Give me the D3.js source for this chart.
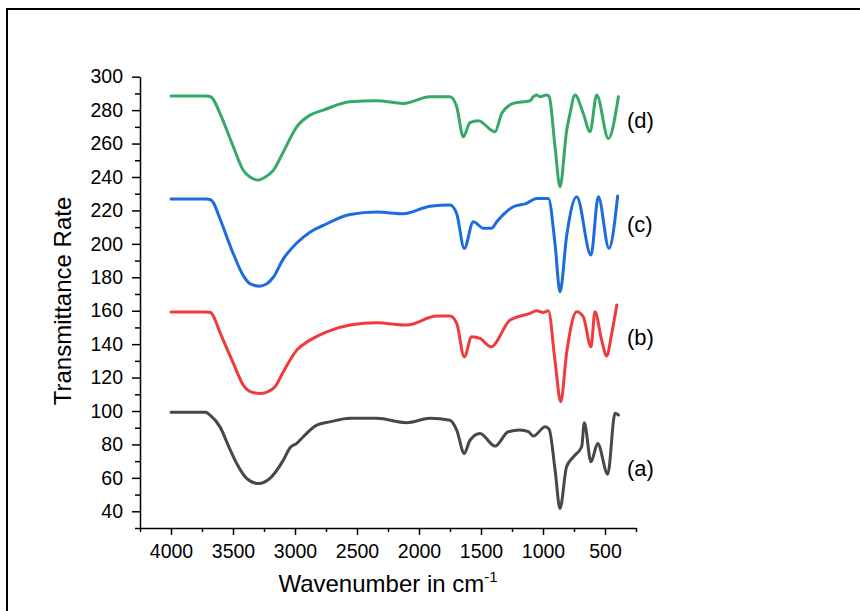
<!DOCTYPE html>
<html>
<head>
<meta charset="utf-8">
<script src="https://cdn.jsdelivr.net/npm/d3@7"></script>
<style>
  body { margin: 0; background: #fff; }
  text { font-family: "Liberation Sans", Arial, sans-serif; fill: #000; }
</style>
</head>
<body>
<div id="chart"></div>
<script>
// FTIR spectra (wavenumber in cm-1, transmittance)
const waveA = [4000, 3720, 3685, 3605, 3530, 3470, 3390, 3296, 3202, 3094, 3040, 2986, 2933, 2825, 2718, 2556, 2341, 2099, 1911, 1750, 1696, 1635, 1589, 1508, 1387, 1280, 1185, 1118, 1078, 981, 950, 903, 863, 810, 755, 688, 667, 613, 559, 478, 419, 392];
const transA = [99.2, 99.2, 97.5, 90.5, 78, 68.6, 59.7, 56.6, 59.7, 70.6, 78, 80.6, 84.6, 91.5, 93.5, 95.6, 95.6, 93, 95.6, 94.5, 88.6, 74.6, 82.5, 86.6, 79, 87.6, 88.6, 87.6, 85, 90.6, 89, 65, 41.7, 66.6, 72.6, 78.6, 93, 69.6, 80.6, 62.2, 98.6, 97.6];

const waveB = [4000, 3720, 3680, 3660, 3605, 3497, 3417, 3350, 3282, 3220, 3161, 3094, 2986, 2879, 2745, 2556, 2341, 2099, 1857, 1750, 1696, 1635, 1575, 1508, 1419, 1266, 1105, 1051, 997, 957, 903, 857, 809, 728, 675, 613, 581, 527, 486, 446, 405];
const transB = [159.3, 159.3, 158.9, 157, 147, 128.5, 115.5, 111.3, 110.5, 111.5, 114.5, 123.5, 136.4, 142.4, 147.4, 151.4, 152.8, 151.4, 156.8, 156.8, 152.4, 132.4, 144.4, 143.4, 138.4, 154.4, 158.4, 160, 159, 160, 130, 105.5, 135, 159.4, 156.4, 138.4, 159.4, 142.4, 132.9, 146.4, 163.4];

const waveC = [4000, 3720, 3680, 3660, 3605, 3497, 3417, 3360, 3290, 3230, 3175, 3094, 2986, 2879, 2772, 2556, 2341, 2127, 1911, 1750, 1696, 1635, 1562, 1481, 1414, 1373, 1239, 1132, 1051, 957, 903, 863, 809, 728, 613, 554, 468, 398];
const transC = [226.8, 226.8, 226.4, 224.8, 215, 194, 181, 176, 174.7, 176, 180, 191, 200.5, 207, 211, 217.5, 219, 218, 222.5, 223.2, 218, 197.3, 213.2, 209.3, 209.3, 213.2, 222.2, 224.2, 227.2, 227.2, 200, 171.3, 205, 228.2, 193.3, 228.2, 197.3, 228.6];

const waveD = [4000, 3720, 3680, 3660, 3605, 3497, 3417, 3360, 3298, 3240, 3175, 3094, 2986, 2879, 2772, 2556, 2341, 2127, 1911, 1750, 1696, 1643, 1589, 1522, 1387, 1333, 1239, 1105, 1078, 1051, 1024, 970, 950, 903, 863, 809, 782, 742, 675, 621, 567, 473, 392];
const transD = [288.4, 288.4, 288, 286.5, 278, 258, 244, 239.8, 238.2, 240, 244, 255, 270, 277, 280, 285, 285.6, 284, 288, 288, 282, 264, 272.5, 273.7, 267, 278, 284, 285.6, 288, 289, 288, 289, 288, 258, 234.2, 268, 278, 289, 278, 267, 289, 263, 288];

const seriesNames = ['(a)', '(b)', '(c)', '(d)'];
const seriesColors = ['#484848', '#ef3b3b', '#1c6be0', '#36a867'];
const labelValues = [66, 144, 211.7, 274];

const majorX = [4000, 3500, 3000, 2500, 2000, 1500, 1000, 500];
const majorY = [40, 60, 80, 100, 120, 140, 160, 180, 200, 220, 240, 260, 280, 300];

const width = 860, height = 611;

const svg = d3.select('#chart')
    .append('svg')
    .attr('width', width)
    .attr('height', height);

// outer frame (runs off the right and bottom edges)
svg.append('rect')
    .attr('x', 7)
    .attr('y', 9)
    .attr('width', 900)
    .attr('height', 700)
    .attr('fill', 'none')
    .attr('stroke', '#000')
    .attr('stroke-width', 2);

const x = d3.scaleLinear()
    .domain([4250, 250])
    .range([140, 636]);

const y = d3.scaleLinear()
    .domain([30, 300])
    .range([528, 76.7]);

// minor ticks first, then major ticks with labels
const minorX = d3.range(4250, 249, -250).filter(v => !majorX.includes(v));
const minorY = d3.range(30, 300, 10).filter(v => !majorY.includes(v));

svg.append('g')
    .attr('transform', 'translate(0,528)')
    .call(d3.axisBottom(x).tickValues(minorX).tickFormat('').tickSizeInner(4).tickSizeOuter(0))
    .call(g => g.select('.domain').remove());

svg.append('g')
    .attr('transform', 'translate(140,0)')
    .call(d3.axisLeft(y).tickValues(minorY).tickFormat('').tickSizeInner(5).tickSizeOuter(0))
    .call(g => g.select('.domain').remove());

const xAxis = svg.append('g')
    .attr('transform', 'translate(0,528)')
    .call(d3.axisBottom(x).tickValues(majorX).tickFormat(d3.format('d'))
        .tickSizeInner(7).tickSizeOuter(0).tickPadding(9));

const yAxis = svg.append('g')
    .attr('transform', 'translate(140,0)')
    .call(d3.axisLeft(y).tickValues(majorY).tickFormat(d3.format('d'))
        .tickSizeInner(8).tickSizeOuter(0).tickPadding(9));

[xAxis, yAxis].forEach(g => {
    g.selectAll('text')
        .style('font-size', '19.5px')
        .style('font-family', '"Liberation Sans", Arial, sans-serif');
});

svg.selectAll('.tick line').attr('stroke', '#000').attr('stroke-width', 1.5);
svg.selectAll('.domain').attr('stroke', '#000').attr('stroke-width', 1.5);

// axis titles
const xTitle = svg.append('text')
    .attr('x', 388)
    .attr('y', 592)
    .attr('text-anchor', 'middle')
    .style('font-size', '24px');
xTitle.append('tspan').text('Wavenumber in cm');
xTitle.append('tspan')
    .attr('dy', -10)
    .style('font-size', '15px')
    .text('-1');

svg.append('text')
    .attr('transform', 'translate(71,301) rotate(-90)')
    .attr('text-anchor', 'middle')
    .style('font-size', '24px')
    .text('Transmittance Rate');

// spectra
const line = d3.line()
    .x(d => x(d[0]))
    .y(d => y(d[1]))
    .curve(d3.curveMonotoneX);

const spectra = [
    d3.zip(waveA, transA),
    d3.zip(waveB, transB),
    d3.zip(waveC, transC),
    d3.zip(waveD, transD)
];

svg.selectAll('path.spectrum')
    .data(spectra)
    .enter()
    .append('path')
    .attr('class', 'spectrum')
    .attr('fill', 'none')
    .attr('stroke', (d, i) => seriesColors[i])
    .attr('stroke-width', 3)
    .attr('stroke-linejoin', 'round')
    .attr('stroke-linecap', 'round')
    .attr('d', line);

// sample labels
svg.selectAll('text.label')
    .data(seriesNames)
    .enter()
    .append('text')
    .attr('class', 'label')
    .attr('x', 627)
    .attr('y', (d, i) => y(labelValues[i]))
    .attr('dy', '0.35em')
    .style('font-size', '22px')
    .text(d => d);
</script>
</body>
</html>
